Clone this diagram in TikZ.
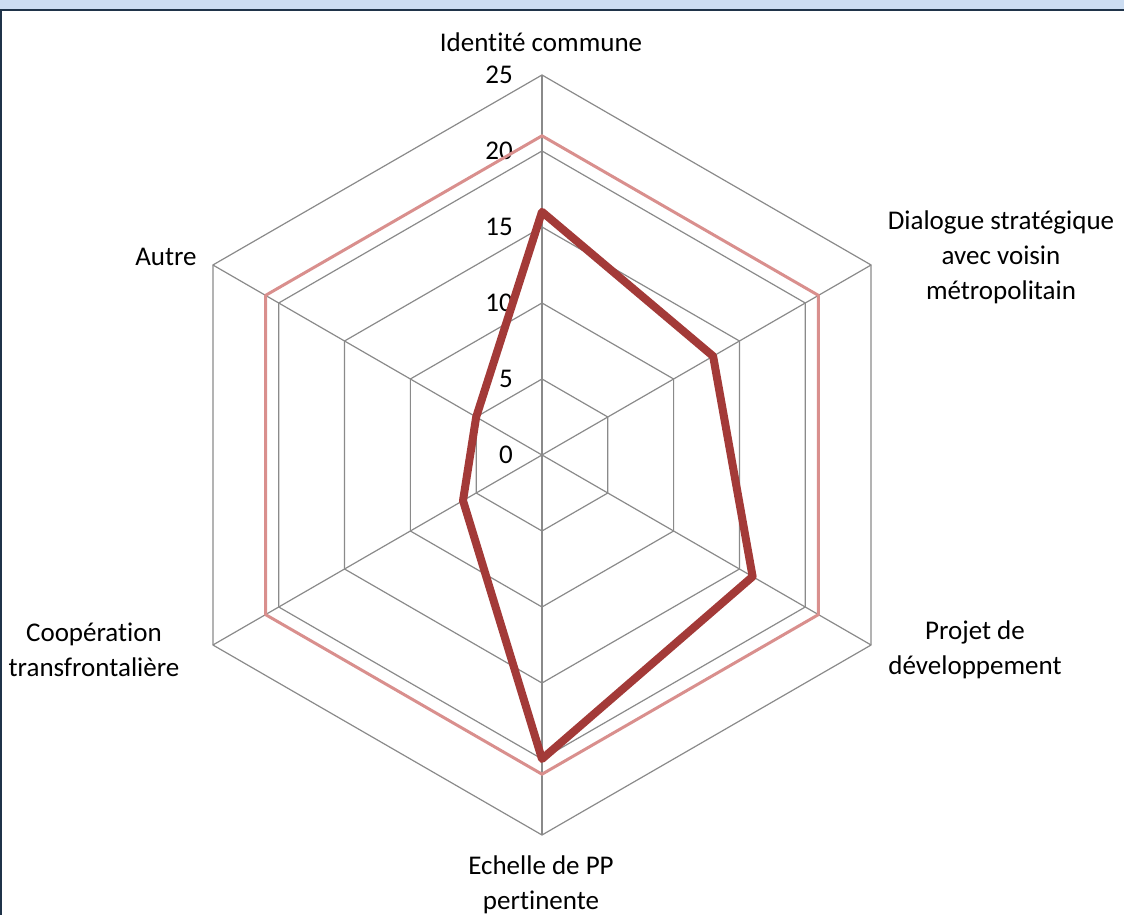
\documentclass[tikz,border=0pt]{standalone}
\usepackage{fontspec}
\setmainfont{Carlito}[Ligatures=NoCommon]
\definecolor{gridgrey}{HTML}{8A8A8A}
\definecolor{pinkline}{HTML}{D98F8D}
\definecolor{darkred}{HTML}{A33A38}
\definecolor{framebar}{HTML}{CCDDF2}
\definecolor{frameline}{HTML}{1F3349}
\newcommand{\radunit}{15.2}
\tikzset{
  gridline/.style={draw=gridgrey, line width=1.2pt},
  ticklabel/.style={anchor=east, inner sep=0pt, font=\fontsize{27}{35}\selectfont},
  axislabel/.style={align=center, inner sep=0pt, font=\fontsize{27}{35}\selectfont},
  seriesref/.style={draw=pinkline, line width=3pt, line join=round},
  seriesmain/.style={draw=darkred, line width=8pt, line join=round}
}
\begin{document}
\begin{tikzpicture}[x=1pt,y=1pt]
\useasboundingbox (-542,-460) rectangle (582,455);

% window frame
\fill[framebar] (-542,446) rectangle (582,455);
\draw[frameline, line width=2pt] (-541,-460) -- (-541,445) -- (582,445);

% grid
\foreach \r in {5,10,...,25}
  \draw[gridline] (90:{\r*\radunit}) \foreach \a in {30,-30,-90,-150,150} {-- (\a:{\r*\radunit})} -- cycle;
\foreach \a in {90,30,-30,-90,-150,150}
  \draw[gridline] (0,0) -- (\a:{25*\radunit});

% scale
\foreach \v in {0,5,...,25}
  \node[ticklabel] (tick\v) at (-29,{\v*\radunit}) {\v};

% series
\draw[seriesref] (90:{21*\radunit}) \foreach \a in {30,-30,-90,-150,150} {-- (\a:{21*\radunit})} -- cycle;
\draw[seriesmain] (90:{16*\radunit}) -- (30:{13*\radunit}) -- (-30:{16*\radunit})
  -- (-90:{20*\radunit}) -- (-150:{6*\radunit}) -- (150:{5*\radunit}) -- cycle;

% axis labels
\node[axislabel] (identite) at (-1,413) {Identité commune};
\node[axislabel] (dialogue) at (459,198) {Dialogue stratégique\\avec voisin\\métropolitain};
\node[axislabel] (projet) at (433,-195) {Projet de\\développement};
\node[axislabel] (echelle) at (-1,-430) {Echelle de PP\\pertinente};
\node[axislabel] (cooperation) at (-448,-195) {Coopération\\transfrontalière};
\node[axislabel] (autre) at (-376,198) {Autre};

\end{tikzpicture}
\end{document}
